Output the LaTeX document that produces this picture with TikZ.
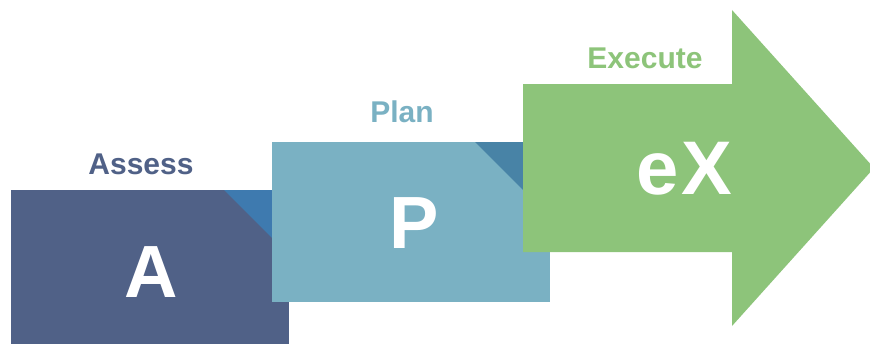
\documentclass[tikz,border=0pt]{standalone}
\usepackage{fontspec}
\setmainfont{Liberation Sans}
\definecolor{cA}{HTML}{506187}
\definecolor{cAf}{HTML}{3E7AAF}
\definecolor{cP}{HTML}{7AB1C3}
\definecolor{cPf}{HTML}{4883A6}
\definecolor{cX}{HTML}{8DC47A}
\tikzset{
  title/.style={anchor=base, inner sep=0pt, font=\bfseries\fontsize{30}{36}\selectfont},
  big/.style={anchor=base, inner sep=0pt, text=white, font=\bfseries\fontsize{74}{80}\selectfont},
}
\begin{document}
\begin{tikzpicture}[x=1pt,y=-1pt]
\useasboundingbox (0,0) rectangle (870,345);
\begin{scope}
\clip (0,0) rectangle (870,345);
% Box A
\fill[cA] (11,190) rectangle (289,344);
\fill[cAf] (224,190) -- (289,190) -- (289,255) -- cycle;
% Box P
\fill[cP] (272,142) rectangle (550,302);
\fill[cPf] (475,142) -- (550,142) -- (550,217) -- cycle;
% Arrow
\fill[cX] (523,84) -- (732,84) -- (732,10) -- (874,168) -- (732,326) -- (732,252) -- (523,252) -- cycle;
\end{scope}
% Labels
\node[title, text=cA] (assess) at (141,174) {Assess};
\node[title, text=cP] (plan) at (402,122) {Plan};
\node[title, text=cX] (execute) at (645,68) {Execute};
\node[big] (a) at (151,297) {A};
\node[big] (p) at (414,248) {P};
\node[big] (x) at (684,194) {\fontsize{76}{80}\selectfont e\hspace{3pt}X};
\end{tikzpicture}
\end{document}
